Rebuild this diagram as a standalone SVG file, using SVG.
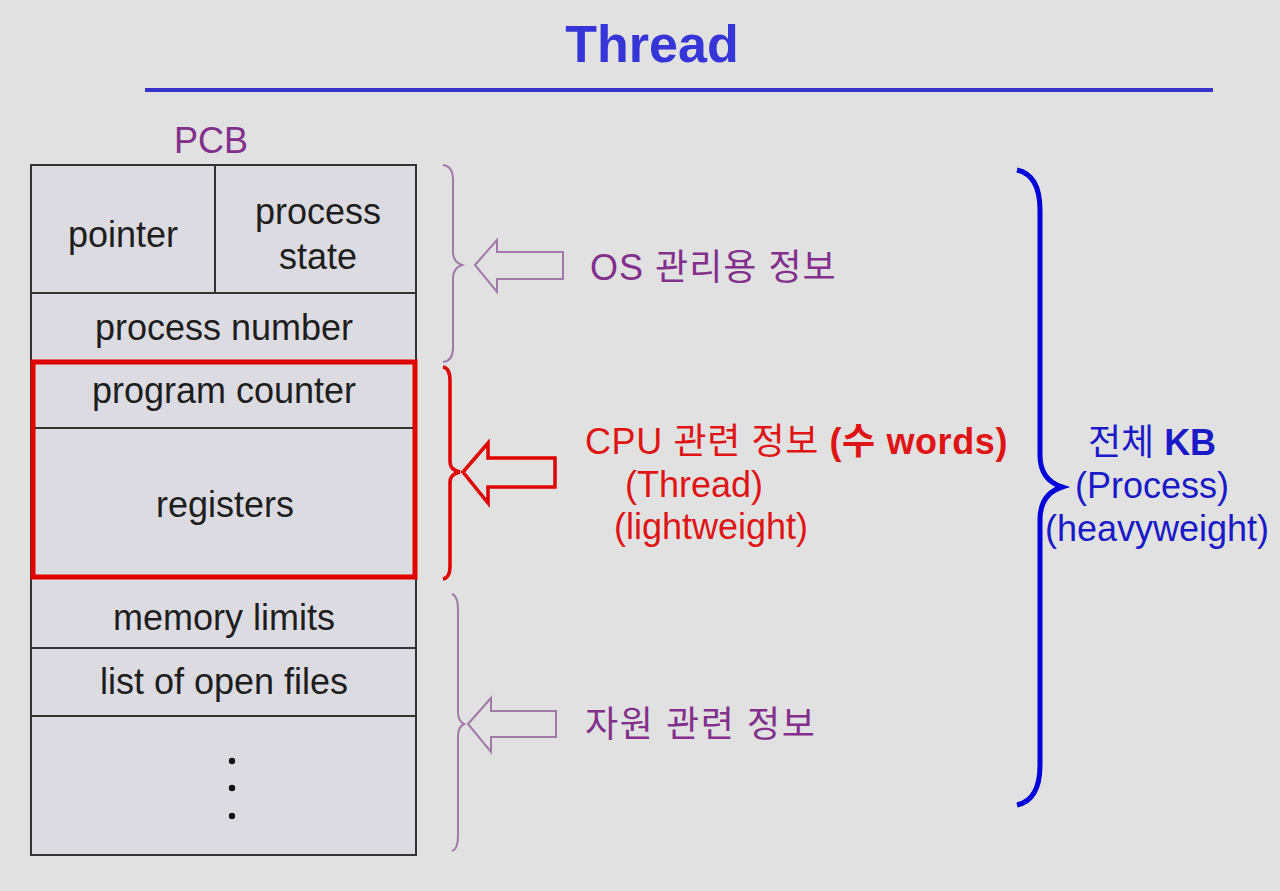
<svg xmlns="http://www.w3.org/2000/svg" width="1280" height="891" viewBox="0 0 1280 891">
<style>
.bg{fill:#e1e1e1}
.cell{fill:#dcdbe1;stroke:#333;stroke-width:2}
.line{stroke:#333;stroke-width:2}
.t{font-family:"Liberation Sans",Arial,"Noto Sans CJK KR",sans-serif;font-size:36px}
.blk{fill:#1e1e1e}
.pur{fill:#82308c}
.red{fill:#e01414}
.blu{fill:#1a1ac8}
.b{font-weight:bold}
.pbrace{fill:none;stroke:#a27aaa;stroke-width:2}
.parrow{fill:none;stroke:#a27aaa;stroke-width:2;stroke-linejoin:miter}
.rarrow{fill:none;stroke:#e00000;stroke-width:3.5}
</style>
<rect class="bg" x="0" y="0" width="1280" height="891"/>

<g id="title">
<text x="652" y="62" text-anchor="middle" font-family="'Liberation Sans',Arial,sans-serif" font-size="52" font-weight="bold" fill="#3535d8">Thread</text>
<line x1="145" y1="90" x2="1213" y2="90" stroke="#3535c8" stroke-width="4"/>
</g>

<g id="pcb-label">
<text class="t pur" x="211" y="153" text-anchor="middle">PCB</text>
</g>

<g id="pcb-table">
<rect class="cell" x="31" y="165" width="385" height="690"/>
<line class="line" x1="215" y1="165" x2="215" y2="293"/>
<line class="line" x1="31" y1="293" x2="416" y2="293"/>
<line class="line" x1="31" y1="362" x2="416" y2="362"/>
<line class="line" x1="31" y1="428" x2="416" y2="428"/>
<line class="line" x1="31" y1="578" x2="416" y2="578"/>
<line class="line" x1="31" y1="648" x2="416" y2="648"/>
<line class="line" x1="31" y1="716" x2="416" y2="716"/>
<text class="t blk" x="123" y="247" text-anchor="middle">pointer</text>
<text class="t blk" x="318" y="224" text-anchor="middle">process</text>
<text class="t blk" x="318" y="269" text-anchor="middle">state</text>
<text class="t blk" x="224" y="340" text-anchor="middle">process number</text>
<text class="t blk" x="224" y="403" text-anchor="middle">program counter</text>
<text class="t blk" x="225" y="517" text-anchor="middle">registers</text>
<text class="t blk" x="224" y="630" text-anchor="middle">memory limits</text>
<text class="t blk" x="224" y="694" text-anchor="middle">list of open files</text>
<circle cx="232" cy="761" r="3.2" fill="#111"/>
<circle cx="232" cy="788" r="3.2" fill="#111"/>
<circle cx="232" cy="816" r="3.2" fill="#111"/>
</g>

<g id="cpu-highlight">
<rect x="33" y="362" width="382" height="215" fill="none" stroke="#e00000" stroke-width="5"/>
</g>

<g id="os-brace">
<path class="pbrace" d="M443,165 Q453,166 453,180 L453,252 Q453,262 462,265 Q453,268 453,278 L453,348 Q453,361 443,362"/>
</g>
<g id="cpu-brace">
<path d="M443,367 Q450,368 450,381 L450,462 Q450,470 460,472 Q450,474 450,482 L450,566 Q450,578 443,579" fill="none" stroke="#e00000" stroke-width="3.5"/>
</g>
<g id="res-brace">
<path class="pbrace" d="M452,594 Q458,596 458,610 L458,712 Q458,721 464,724 Q458,727 458,736 L458,836 Q458,849 452,851"/>
</g>
<g id="all-brace">
<path d="M1017,170 Q1040,175 1040,210 L1040,455 Q1040,480 1062,487 Q1040,494 1040,520 L1040,765 Q1040,800 1017,805" fill="none" stroke="#0000dd" stroke-width="5"/>
</g>

<g id="connectors">
<polygon class="parrow" points="475,265 497,240 497,252 563,252 563,279 497,279 497,292"/>
<polygon class="rarrow" points="463,472 488,443 488,458 555,458 555,487 488,487 488,503"/>
<polygon class="parrow" points="468,724 491,698 491,711 556,711 556,737 491,737 491,752"/>
</g>

<g id="os-label">
<text class="t pur" x="590" y="280" letter-spacing="1">OS 관리용 정보</text>
</g>
<g id="cpu-label">
<text class="t red" x="585" y="454" letter-spacing="0.6">CPU 관련 정보 <tspan class="b">(수 words)</tspan></text>
<text class="t red" x="625" y="497">(Thread)</text>
<text class="t red" x="614" y="539">(lightweight)</text>
</g>
<g id="res-label">
<text class="t pur" x="585" y="737" letter-spacing="1.6">자원 관련 정보</text>
</g>
<g id="all-label">
<text class="t blu" x="1152" y="455" text-anchor="middle">전체 <tspan class="b">KB</tspan></text>
<text class="t blu" x="1152" y="498" text-anchor="middle">(Process)</text>
<text class="t blu" x="1157" y="541" text-anchor="middle">(heavyweight)</text>
</g>
</svg>
